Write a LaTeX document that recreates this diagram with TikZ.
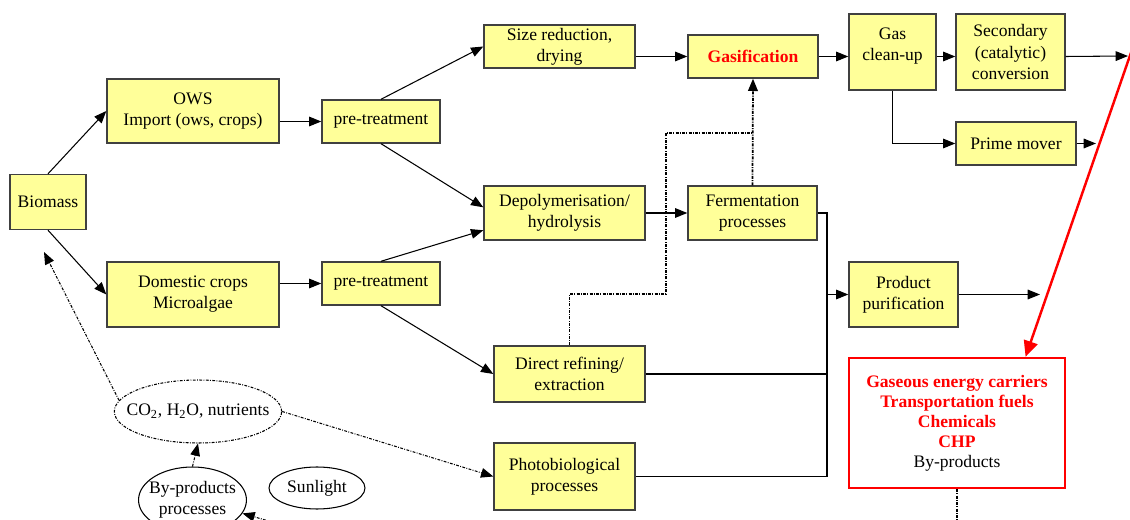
\documentclass[tikz,border=0pt]{standalone}
\usepackage{fontspec}
\setmainfont{Liberation Serif}
\usetikzlibrary{arrows.meta,shapes.geometric}
\definecolor{boxfill}{RGB}{255,255,153}
\definecolor{boxline}{RGB}{64,64,64}
\definecolor{outred}{RGB}{255,0,0}

\begin{document}
\begin{tikzpicture}[
x=0.02cm, y=-0.02cm,
>={Triangle[length=7pt,width=5.5pt]},
font=\fontsize{10}{12}\selectfont,
box/.style={
  rectangle,
  draw=boxline,
  fill=boxfill,
  line width=0.8pt,
  align=center,
  inner sep=1pt
},
blob/.style={ellipse,draw=black,line width=0.6pt,align=center,inner sep=0pt},
link/.style={->,line width=0.6pt},
dotline/.style={line width=0.6pt,dash pattern=on 1.6pt off 0.8pt on 0.5pt off 0.8pt},
outbox/.style={rectangle,draw=outred,line width=1.4pt,align=center,
  font=\fontsize{10}{11.4}\selectfont}
]
\clip (0,0) rectangle (1130,520);
\useasboundingbox (0,0) rectangle (1130,520);

\node (bio) at (48,202) [box,minimum width=1.52cm,minimum height=1.1cm] {Biomass};
\node (ows) at (193,111) [box,minimum width=3.44cm,minimum height=1.28cm] {OWS\\Import (ows, crops)};
\node (dom) at (193,294.5) [box,minimum width=3.44cm,minimum height=1.3cm] {Domestic crops\\Microalgae};
\node (pre1) at (381,121.5) [box,minimum width=2.36cm,minimum height=0.86cm] {pre-treatment};
\node (pre2) at (381,283.5) [box,minimum width=2.36cm,minimum height=0.86cm] {pre-treatment};

\node (size) at (559.5,46.5) [box,minimum width=3.02cm,minimum height=0.86cm] {Size reduction,\\drying};
\node (gasif) at (753,56.5) [box,minimum width=2.6cm,minimum height=0.86cm] {\color{outred}\bfseries Gasification};
\node (clean) at (892.5,52) [box,minimum width=1.74cm,minimum height=1.52cm] {Gas\\clean-up\\[-0.3em]\mbox{}};
\node (second) at (1010.5,52) [box,minimum width=2.18cm,minimum height=1.52cm] {Secondary\\(catalytic)\\conversion};
\node (prime) at (1016,143.5) [box,minimum width=2.4cm,minimum height=0.86cm] {Prime mover};

\node (depol) at (564.5,213) [box,minimum width=3.22cm,minimum height=1.08cm] {Depolymerisation/\\hydrolysis};
\node (ferm) at (752.5,213) [box,minimum width=2.58cm,minimum height=1.08cm] {Fermentation\\processes};
\node (direct) at (569.5,374) [box,minimum width=3.02cm,minimum height=1.12cm] {Direct refining/\\extraction};
\node (photo) at (564.5,476.5) [box,minimum width=2.82cm,minimum height=1.34cm] {Photobiological\\processes};
\node (purif) at (903.5,294.5) [box,minimum width=2.18cm,minimum height=1.3cm] {Product\\purification};

\node (out) at (957,423) [outbox,minimum width=4.32cm,minimum height=2.6cm]
  {\color{outred}\bfseries Gaseous energy carriers\\
   \color{outred}\bfseries Transportation fuels\\
   \color{outred}\bfseries Chemicals\\
   \color{outred}\bfseries CHP\\
   By-products};

\node (co2) at (198,411.5) [blob,dotline,inner xsep=-7pt,minimum width=3.2cm,minimum height=1.26cm] {CO\textsubscript{2}, H\textsubscript{2}O, nutrients};
\node (byp) at (192.5,500) [blob,inner xsep=-3pt,minimum width=2.14cm,minimum height=1.32cm] {By-products\\processes};
\node (sun) at (317,488) [blob,minimum width=1.92cm,minimum height=0.84cm] {Sunlight};

\coordinate (rowA) at (1128,56);
\coordinate (rowB) at (1096,143.5);
\coordinate (rowC) at (1040,294.5);
\coordinate (bus) at (827,294.5);
\coordinate (dA) at (666,294);
\coordinate (dB) at (753,133);
\coordinate (redA) at (1134,44);
\coordinate (bioIn) at (44,252);
\coordinate (sunIn) at (272,522);
\coordinate (outDn) at (957,522);

\draw [link] (bio.north) -- (ows.west);
\draw [link] (bio.south) -- (dom.west);
\draw [link] (ows.east |- pre1.west) -- (pre1.west);
\draw [link] (dom.east |- pre2.west) -- (pre2.west);

\draw [link] (pre1.north) -- (size.west);
\draw [link] (pre1.south) -- (depol.176);
\draw [link] (pre2.north) -- (depol.192);
\draw [link] (pre2.south) -- (direct.west);

\draw [link] (gasif.west -| size.east) -- (gasif.west);
\draw [link] (gasif.east) -- (gasif.east -| clean.west);
\draw [link] (gasif.east -| clean.east) -- (gasif.east -| second.west);
\draw [link] (gasif.east -| second.east) -- (rowA);
\draw [link] (clean.south) |- (prime.west);
\draw [link] (prime.east) -- (rowB);

\draw [link] (depol.east) -- (ferm.west);
\draw [link,dotline,line width=1pt] (ferm.north) -- (gasif.south);
\draw [dotline] (direct.north) |- (dA) |- (dB);

\draw [line width=0.6pt] (ferm.east) -| (photo.east -| bus) -- (photo.east);
\draw [line width=0.6pt] (direct.east) -- (direct.east -| bus);
\draw [link] (bus) -- (purif.west);
\draw [link] (purif.east) -- (rowC);

\draw [->,outred,line width=1.4pt,>={Triangle[length=9pt,width=8pt]}] (redA) -- (out.44);
\draw [dotline,line width=1pt] (out.south) -- (outDn);

\draw [link,dotline] (co2.172) -- (bioIn);
\draw [link,dotline] (co2.east) -- (photo.west);
\draw [link,dotline] (byp.north) -- (co2.south);
\draw [link,dotline] (sunIn) -- (byp.-15);

\end{tikzpicture}
\end{document}
